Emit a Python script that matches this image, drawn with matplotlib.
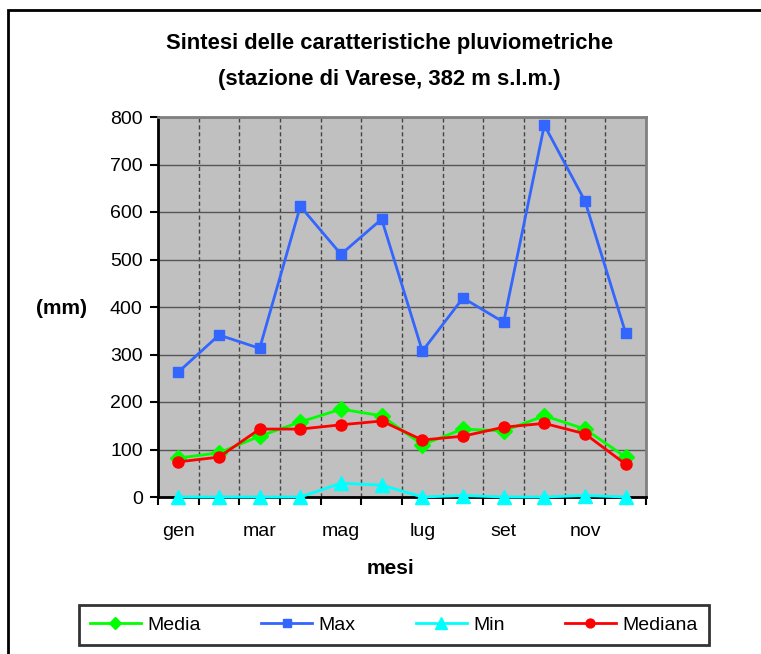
### Sintesi delle caratteristiche pluviometriche - stazione di Varese

import numpy as np
import matplotlib.pyplot as plt
from matplotlib.patches import Rectangle

plt.rcParams['font.family'] = ['Liberation Sans', 'DejaVu Sans']

mesi = ["gen", "feb", "mar", "apr", "mag", "giu",
        "lug", "ago", "set", "ott", "nov", "dic"]
media = [82, 93, 128, 158, 185, 171, 110, 143, 139, 171, 143, 84]
massimo = [263, 341, 313, 612, 511, 585, 307, 419, 368, 783, 623, 345]
minimo = [0, 0, 0, 0, 29, 25, 0, 3, 0, 0, 3, 0]
mediana = [74, 84, 143, 143, 152, 160, 120, 128, 147, 155, 133, 69]

x = np.arange(len(mesi))

fig = plt.figure(figsize=(7.61, 6.54), dpi=100)
ax = fig.add_axes([158/761, 1 - 497/654, 488/761, 380/654])
ax.set_facecolor('#c0c0c0')

# outer frame of the chart (right and bottom edges fall outside the picture)
fig.patches.append(Rectangle((8/761, -0.1), 1.2, 1 - 10/654 + 0.1, transform=fig.transFigure,
                             fill=False, edgecolor='black', linewidth=2))

ax.plot(x, media, color='#00ff00', marker='D', markersize=8, linewidth=2, label='Media',
        zorder=3, clip_on=False)
ax.plot(x, massimo, color='#3366ff', marker='s', markersize=7, linewidth=2, label='Max',
        zorder=3, clip_on=False)
ax.plot(x, minimo, color='#00ffff', marker='^', markersize=10, linewidth=2, label='Min',
        zorder=3, clip_on=False)
ax.plot(x, mediana, color='#ff0000', marker='o', markersize=8, linewidth=2, label='Mediana',
        zorder=3, clip_on=False)

ax.set_xlim(-0.5, 11.5)
ax.set_ylim(0, 800)
ax.set_yticks(range(0, 801, 100))
ax.set_xticks(np.arange(-0.5, 12, 1))
ax.set_xticklabels([])
ax.set_xticks(x[::2], minor=True)
ax.set_xticklabels(mesi[::2], minor=True)
ax.tick_params(axis='x', which='minor', length=0, labelsize=14, pad=19)
ax.tick_params(axis='x', which='major', direction='out', length=6, width=1.5)
ax.tick_params(axis='y', direction='out', length=6, width=1.5, labelsize=14, pad=5)

ax.grid(axis='y', color='#555555', linewidth=1, zorder=1)
ax.grid(axis='x', which='major', color='#444444', linewidth=1, linestyle=(0, (3, 2)), zorder=1)
ax.set_axisbelow(True)

ax.spines['left'].set_linewidth(2)
ax.spines['bottom'].set_linewidth(2)
ax.spines['top'].set_color('#808080')
ax.spines['right'].set_color('#808080')
ax.spines['top'].set_linewidth(2)
ax.spines['right'].set_linewidth(2)

fig.text(0.512, 1 - 44/654, "Sintesi delle caratteristiche pluviometriche",
         ha='center', va='center', fontsize=15.8, fontweight='bold')
fig.text(0.512, 1 - 80/654, "(stazione di Varese, 382 m s.l.m.)",
         ha='center', va='center', fontsize=15.8, fontweight='bold')
fig.text(62/761, 1 - 308/654, "(mm)", ha='center', va='center', fontsize=15, fontweight='bold')
fig.text(390/761, 1 - 568/654, "mesi", ha='center', va='center', fontsize=15, fontweight='bold')

leg = ax.legend(loc='center', bbox_to_anchor=(394/761, 1 - 625/654), bbox_transform=fig.transFigure,
                ncol=4, frameon=True, fancybox=False, fontsize=14, handlelength=2.6,
                handletextpad=0.35, columnspacing=3.1, borderpad=0.6, borderaxespad=0,
                markerscale=0.8)
leg.get_frame().set_edgecolor('black')
leg.get_frame().set_linewidth(2)

fig.savefig('out.png', dpi=100)
